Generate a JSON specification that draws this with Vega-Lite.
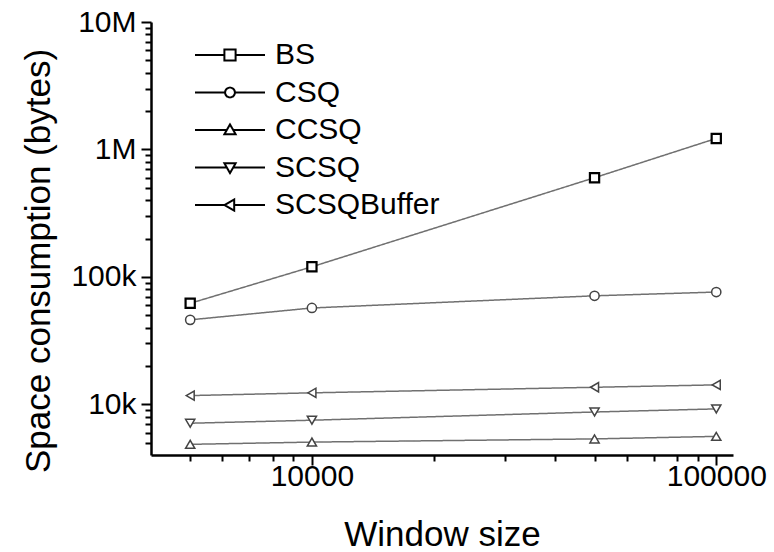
{
  "$schema": "https://vega.github.io/schema/vega-lite/v6.json",
  "width": 582,
  "height": 433,
  "autosize": "none",
  "padding": {"left": 151, "top": 22, "right": 41, "bottom": 97},
  "background": "white",
  "config": {
    "view": {"stroke": null},
    "font": "Liberation Sans",
    "axis": {
      "grid": false,
      "domainColor": "black",
      "domainWidth": 2.5,
      "tickColor": "black",
      "tickWidth": 2,
      "labelFont": "Liberation Sans",
      "labelFontSize": 30,
      "labelColor": "black",
      "titleFont": "Liberation Sans",
      "titleFontSize": 35,
      "titleFontWeight": "normal",
      "titleColor": "black",
      "labelFlush": false
    }
  },
  "data": {
    "values": [
      {"series": "BS", "window": 5000, "bytes": 62000},
      {"series": "BS", "window": 10000, "bytes": 120000},
      {"series": "BS", "window": 50000, "bytes": 600000},
      {"series": "BS", "window": 100000, "bytes": 1220000},
      {"series": "CSQ", "window": 5000, "bytes": 46000},
      {"series": "CSQ", "window": 10000, "bytes": 57000},
      {"series": "CSQ", "window": 50000, "bytes": 71000},
      {"series": "CSQ", "window": 100000, "bytes": 76000},
      {"series": "CCSQ", "window": 5000, "bytes": 4850},
      {"series": "CCSQ", "window": 10000, "bytes": 5050},
      {"series": "CCSQ", "window": 50000, "bytes": 5350},
      {"series": "CCSQ", "window": 100000, "bytes": 5600},
      {"series": "SCSQ", "window": 5000, "bytes": 7100},
      {"series": "SCSQ", "window": 10000, "bytes": 7500},
      {"series": "SCSQ", "window": 50000, "bytes": 8700},
      {"series": "SCSQ", "window": 100000, "bytes": 9200},
      {"series": "SCSQBuffer", "window": 5000, "bytes": 11700},
      {"series": "SCSQBuffer", "window": 10000, "bytes": 12300},
      {"series": "SCSQBuffer", "window": 50000, "bytes": 13600},
      {"series": "SCSQBuffer", "window": 100000, "bytes": 14200}
    ]
  },
  "layer": [
    {
      "mark": {"type": "line", "stroke": "#707070", "strokeWidth": 1.5},
      "encoding": {
        "x": {
          "field": "window", "type": "quantitative",
          "scale": {"type": "log", "domain": [4000, 110000], "nice": false},
          "axis": {
            "orient": "bottom",
            "values": [10000, 100000],
            "format": "d",
            "tickSize": 10,
            "labelPadding": -4,
            "title": "Window size",
            "titlePadding": 26
          }
        },
        "y": {
          "field": "bytes", "type": "quantitative",
          "scale": {"type": "log", "domain": [4000, 10000000], "nice": false},
          "axis": {
            "orient": "left",
            "values": [10000, 100000, 1000000, 10000000],
            "format": "~s",
            "tickSize": 10,
            "labelPadding": 5,
            "title": "Space consumption (bytes)",
            "titlePadding": 14,
            "titleY": 238.5
          }
        },
        "strokeDash": {
          "field": "series", "type": "nominal",
          "scale": {
            "domain": ["BS", "CSQ", "CCSQ", "SCSQ", "SCSQBuffer"],
            "range": [[1, 0], [1, 0], [1, 0], [1, 0], [1, 0]]
          },
          "legend": {
            "title": null,
            "orient": "none",
            "legendX": 43,
            "legendY": 18,
            "padding": 0,
            "symbolSize": 4900,
            "symbolStrokeWidth": 2,
            "symbolStrokeColor": "black",
            "symbolFillColor": "white",
            "symbolType": {"expr": "datum.value === 'BS' ? 'M-1 0H-0.16M0.16 0H1M-0.16 -0.16H0.16V0.16H-0.16Z' : datum.value === 'CSQ' ? 'M-1 0H-0.14M0.14 0H1M0.14 0A0.14 0.14 0 1 1 -0.14 0A0.14 0.14 0 1 1 0.14 0Z' : datum.value === 'CCSQ' ? 'M-1 0H-0.1M0.1 0H1M0 -0.16L0.16 0.12H-0.16Z' : datum.value === 'SCSQ' ? 'M-1 0H-0.1M0.1 0H1M0 0.16L0.16 -0.12H-0.16Z' : 'M-1 0H-0.16M0.12 0H1M-0.16 0L0.12 -0.16V0.16Z'"},
            "clipHeight": 30,
            "rowPadding": 7.5,
            "labelFont": "Liberation Sans",
            "labelFontSize": 30,
            "labelColor": "black",
            "labelOffset": 9,
            "labelLimit": 300
          }
        }
      }
    },
    {
      "mark": {"type": "point", "size": 85, "filled": false, "fill": "white", "opacity": 1},
      "encoding": {
        "x": {
          "field": "window", "type": "quantitative",
          "axis": {
            "orient": "bottom",
            "values": [5000, 6000, 7000, 8000, 9000, 20000, 30000, 40000, 50000, 60000, 70000, 80000, 90000],
            "labels": false,
            "domain": false,
            "tickSize": 6,
            "title": null
          }
        },
        "y": {
          "field": "bytes", "type": "quantitative",
          "axis": {
            "orient": "left",
            "values": [5000, 6000, 7000, 8000, 9000, 20000, 30000, 40000, 50000, 60000, 70000, 80000, 90000, 200000, 300000, 400000, 500000, 600000, 700000, 800000, 900000, 2000000, 3000000, 4000000, 5000000, 6000000, 7000000, 8000000, 9000000],
            "labels": false,
            "domain": false,
            "tickSize": 6,
            "title": null
          }
        },
        "shape": {
          "field": "series", "type": "nominal",
          "scale": {
            "range": ["square", "triangle-up", "circle", "triangle-down", "triangle-left"]
          },
          "legend": null
        },
        "stroke": {
          "condition": {"test": "datum.series === 'BS'", "value": "black"},
          "value": "#444444"
        },
        "strokeWidth": {
          "condition": {"test": "datum.series === 'BS'", "value": 2.2},
          "value": 1.5
        }
      }
    }
  ],
  "resolve": {"axis": {"x": "independent", "y": "independent"}}
}
